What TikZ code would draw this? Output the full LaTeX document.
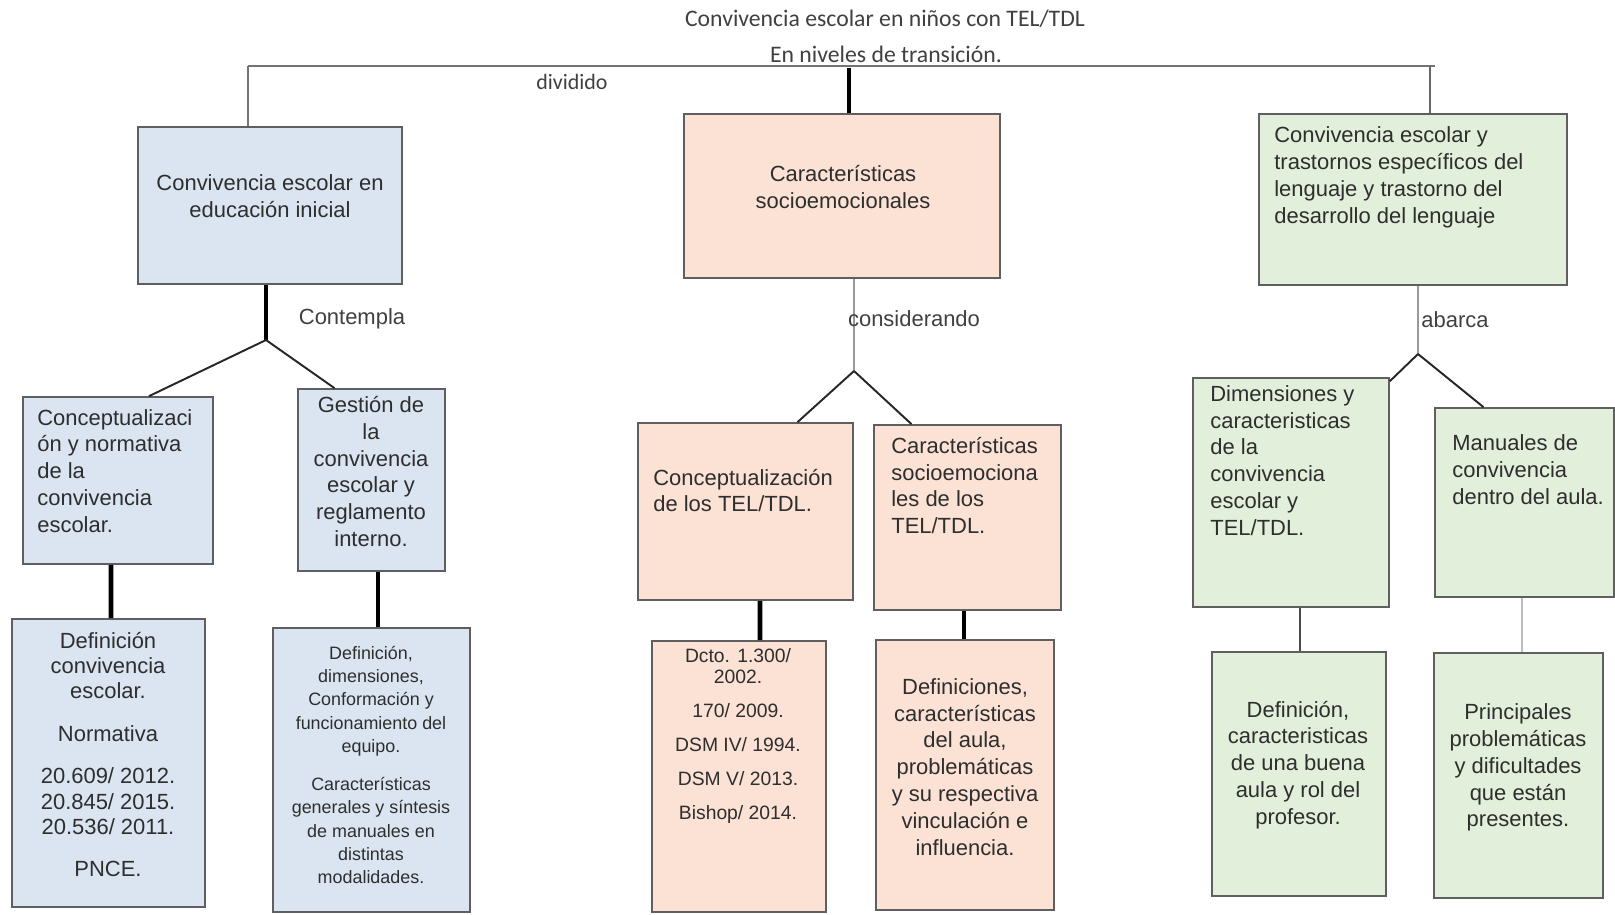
\documentclass[tikz,border=0pt]{standalone}
\usepackage{fontspec}
\setmainfont{Liberation Sans}
\newfontfamily\calibri{Carlito}
\usetikzlibrary{calc,positioning}
\definecolor{azulcaja}{HTML}{DAE5F1}
\definecolor{naranjacaja}{HTML}{FBE2D5}
\definecolor{verdecaja}{HTML}{E2EFDA}
\definecolor{bordecaja}{HTML}{5F5F5F}
\definecolor{textocaja}{HTML}{2E2E2E}
\tikzset{
	caja/.style 2 args={draw=bordecaja, line width=1pt, inner sep=0pt, minimum width=#1cm, minimum height=#2cm},
	texto/.style={inner sep=0pt, text=textocaja, font=\fontsize{12.5}{15.3}\selectfont},
	textoc/.style={texto, align=center},
	textoi/.style={texto, align=left, anchor=west},
	chico/.style={textoc, font=\fontsize{10.2}{13.3}\selectfont},
	medio/.style={textoc, font=\fontsize{11}{11.9}\selectfont},
	enlace/.style={texto, text=black!75},
	grueso/.style={line width=2.8pt, black},
	fino/.style={line width=1.1pt, black!85},
	gris/.style={line width=0.7pt, black!40}
}

\begin{document}
\begin{tikzpicture}[x=0.02cm, y=-0.02cm]
			%%%%% START %%%%%
			\useasboundingbox (0,0) rectangle (1615,914);
			
			\node[textoc, text=black!75, font=\calibri\fontsize{13.5}{15}\selectfont] (titulo) at (885,19) {Convivencia escolar en niños con TEL/TDL};
			\node[textoc, text=black!75, font=\calibri\fontsize{13.5}{15}\selectfont] (subtitulo) at (886,54) {En niveles de transición.};
			\coordinate (barraI) at (248,66);
			\coordinate (barraM) at (849,68);
			\coordinate (barraC) at (1430,66);
			\coordinate (barraD) at (1435,66);
			\draw[gris, black!55] (barraI) -- (barraD);
			\node[enlace, font=\calibri\fontsize{12.5}{15}\selectfont] (dividido) at (572,82) {dividido};
			
			% nivel 1
			\node[caja={5.28}{3.14}, fill=azulcaja] (conv) at (270,205.5) {};
			\node[textoc] (convT) at (270,196) {Convivencia escolar en\\educación inicial};
			
			\node[caja={6.32}{3.28}, fill=naranjacaja] (carac) at (842,196) {};
			\node[textoc] (caracT) at (843,187) {Características\\socioemocionales};
			
			\node[caja={6.16}{3.42}, fill=verdecaja] (trast) at (1413,199.5) {};
			\node[textoi] (trastT) at (1274,177.5) {Convivencia escolar y\\trastornos específicos del\\lenguaje y trastorno del\\desarrollo del lenguaje};
			
			\draw[gris, black!55] (barraI) -- (barraI |- conv.north);
			\draw[grueso] (barraM) -- (barraM |- carac.north);
			\draw[gris, black!60, line width=0.9pt] (barraC) -- (barraC |- trast.north);
			
			% nivel 2
			\node[caja={3.80}{3.34}, fill=azulcaja] (concep) at (118,480.5) {};
			\node[textoi] (concepT) at (37,471) {Conceptualizaci\\ón y normativa\\de la\\convivencia\\escolar.};
			
			\node[caja={2.94}{3.64}, fill=azulcaja] (gestion) at (371.5,480) {};
			\node[textoc] (gestionT) at (371,471.5) {Gestión de\\la\\convivencia\\escolar y\\reglamento\\interno.};
			
			\node[caja={4.30}{3.54}, fill=naranjacaja] (concTEL) at (745.5,511.5) {};
			\node[textoi] (concTELT) at (653,490.5) {Conceptualización\\de los TEL/TDL.};
			
			\node[caja={3.74}{3.70}, fill=naranjacaja] (caracTEL) at (967.5,517.5) {};
			\node[textoi] (caracTELT) at (891,485.5) {Características\\socioemociona\\les de los\\TEL/TDL.};
			
			\node[caja={3.92}{4.58}, fill=verdecaja] (dimen) at (1291,492.5) {};
			\node[textoi] (dimenT) at (1210,460.5) {Dimensiones y\\caracteristicas\\de la\\convivencia\\escolar y\\TEL/TDL.};
			
			\node[caja={3.58}{3.78}, fill=verdecaja] (manual) at (1524.5,502.5) {};
			\node[textoi] (manualT) at (1452,470) {Manuales de\\convivencia\\dentro del aula.};
			
			% ramas
			\coordinate (ramaA) at (266,340);
			\draw[grueso] (ramaA |- conv.south) -- (ramaA);
			\draw[fino] (ramaA) -- ($(concep.north)+(31,0)$);
			\draw[fino] (ramaA) -- ($(gestion.north)+(-37,0)$);
			\node[enlace] (contempla) at (352,319) {Contempla};
			
			\coordinate (ramaB) at (854,371);
			\draw[gris] (ramaB |- carac.south) -- (ramaB);
			\draw[fino] (ramaB) -- ($(concTEL.north)+(52,0)$);
			\draw[fino] (ramaB) -- ($(caracTEL.north)+(-56,0)$);
			\node[enlace] (considerando) at (914,319) {considerando};
			
			\coordinate (ramaC) at (1418,354);
			\draw[gris] (ramaC |- trast.south) -- (ramaC);
			\draw[fino] (ramaC) -- ($(dimen.north east)+(0,4)$);
			\draw[fino] (ramaC) -- ($(manual.north)+(-41,0)$);
			\node[enlace] (abarca) at (1455,320) {abarca};
			
			% nivel 3
			\node[caja={3.86}{5.76}, fill=azulcaja] (defin) at (108.5,763) {};
			\node[textoc, font=\fontsize{12.5}{14.5}\selectfont] (definT) at (108,754.5) {Definición\\convivencia\\escolar.\\[9.6pt]Normativa\\[9.6pt]20.609/ 2012.\\20.845/ 2015.\\20.536/ 2011.\\[9.6pt]PNCE.};
			
			\node[caja={3.94}{5.68}, fill=azulcaja] (defdim) at (371.5,770) {};
			\node[chico] (defdimT) at (371,765) {Definición,\\dimensiones,\\Conformación y\\funcionamiento del\\equipo.\\[8.2pt]Características\\generales y síntesis\\de manuales en\\distintas\\modalidades.};
			
			\node[caja={3.48}{5.42}, fill=naranjacaja] (dcto) at (739,776.5) {};
			\node[medio] (dctoT) at (738,736) {Dcto. 1.300/\\2002.\\[7.4pt]170/ 2009.\\[7.4pt]DSM IV/ 1994.\\[7.4pt]DSM V/ 2013.\\[7.4pt]Bishop/ 2014.};
			
			\node[caja={3.56}{5.40}, fill=naranjacaja] (definic) at (965,775) {};
			\node[textoc] (definicT) at (965,767) {Definiciones,\\características\\del aula,\\problemáticas\\y su respectiva\\vinculación e\\influencia.};
			
			\node[caja={3.48}{4.88}, fill=verdecaja] (buena) at (1299,774) {};
			\node[textoc] (buenaT) at (1298,765) {Definición,\\caracteristicas\\de una buena\\aula y rol del\\profesor.};
			
			\node[caja={3.38}{4.90}, fill=verdecaja] (princ) at (1518.5,775.5) {};
			\node[textoc] (princT) at (1518,767.5) {Principales\\problemáticas\\y dificultades\\que están\\presentes.};
			
			\draw[grueso] ($(concep.south)+(-7,0)$) -- ($(defin.north)+(2.5,0)$);
			\draw[grueso] ($(gestion.south)+(6.5,0)$) -- ($(defdim.north)+(6.5,0)$);
			\draw[grueso] ($(concTEL.south)+(14.5,0)$) -- ($(dcto.north)+(21,0)$);
			\draw[grueso] ($(caracTEL.south)+(-3.5,0)$) -- ($(definic.north)+(-1,0)$);
			\draw[fino, black!70] ($(dimen.south)+(9,0)$) -- ($(buena.north)+(1,0)$);
			\draw[gris] ($(manual.south)+(-2.5,0)$) -- ($(princ.north)+(3.5,0)$);
			
			%%%%% END %%%%%
\end{tikzpicture}
\end{document}
